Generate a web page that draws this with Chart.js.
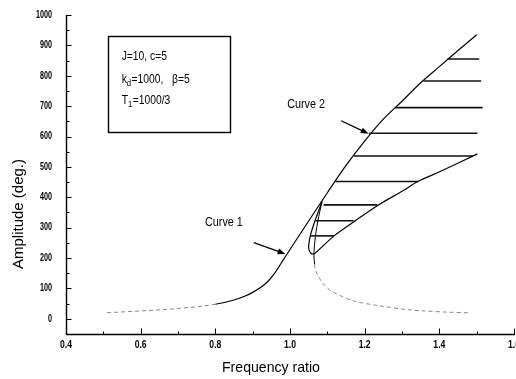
<!DOCTYPE html>
<html><head><meta charset="utf-8">
<script src="https://cdn.jsdelivr.net/npm/chart.js@4.4.1/dist/chart.umd.min.js"></script>
<style>
html,body{margin:0;padding:0;background:#fff;overflow:hidden;}
#wrap{position:relative;width:516px;height:379px;overflow:hidden;background:#fff;}
#c{display:block;}
</style></head><body>
<div id="wrap"><canvas id="c" width="530" height="379" style="width:530px;height:379px"></canvas></div>
<script>
// ---- tick values / labels ----
const xTickValues = [0.4, 0.6, 0.8, 1.0, 1.2, 1.4, 1.6];
const xTickLabels = ['0.4', '0.6', '0.8', '1.0', '1.2', '1.4', '1.6'];
const yTickValues = [0, 100, 200, 300, 400, 500, 600, 700, 800, 900, 1000];
const yTickLabels = ['0', '100', '200', '300', '400', '500', '600', '700', '800', '900', '1000'];

// ---- rising branch (curve 1 / curve 2 upper) ----
const riseX = [0.51, 0.6, 0.7, 0.8, 0.85, 0.88, 0.9, 0.92, 0.94, 0.96, 0.98, 1.0, 1.05, 1.1, 1.15, 1.2, 1.25, 1.3, 1.35, 1.4, 1.45, 1.5];
const riseY = [20, 26, 34, 48, 62, 75, 87, 102, 122, 152, 190, 228, 322, 415, 505, 585, 657, 716, 777, 830, 883, 935];

// ---- curve 1 fold-back branch ----
const foldX = [1.086, 1.077, 1.068, 1.064, 1.066, 1.068, 1.086, 1.11, 1.17, 1.24, 1.315, 1.36, 1.42, 1.48];
const foldY = [386, 337, 271, 210, 180, 161, 120, 92, 59, 43, 30, 26, 22, 20];

// ---- curve 2 loop and lower branch ----
const loopX = [1.086, 1.068, 1.055, 1.05, 1.056, 1.066, 1.085, 1.118, 1.174, 1.236, 1.306, 1.341, 1.408, 1.502];
const loopY = [386, 326, 276, 232, 216, 215, 236, 273, 322, 374, 424, 451, 488, 543];

// ---- hatch lines between the branches ----
const hatchLevel = [273, 323, 375, 452, 536, 611, 695, 783, 855];
const hatchFrom = [1.055, 1.068, 1.09, 1.122, 1.171, 1.212, 1.281, 1.358, 1.422];
const hatchTo = [1.118, 1.171, 1.234, 1.343, 1.49, 1.502, 1.516, 1.512, 1.507];

// ---- annotations (data coordinates) ----
const paramLines = [['J=10, c=5'], ['k', 'd', '=1000,   \u03b2=5'], ['T', '1', '=1000/3']];
const paramBox = {x0: 0.513, x1: 0.84, y0: 930, y1: 613, textX: 0.549, lineY: [862, 786, 717]};
const curveLabels = [
  {text: 'Curve 1', x: 0.823, y: 315, ax0: 0.903, ay0: 251, ax1: 0.988, ay1: 213},
  {text: 'Curve 2', x: 1.043, y: 704, ax0: 1.137, ay0: 652, ax1: 1.211, ay1: 609}
];
const xTitle = {text: 'Frequency ratio', x: 0.949};
const yTitle = {text: 'Amplitude (deg.)', y: 345};

const SANS = "'Liberation Sans',Arial,sans-serif";

function pts(xs, ys) { return xs.map((v, i) => ({x: v, y: ys[i]})); }
function line(xs, ys, opts) {
  return Object.assign({data: pts(xs, ys), showLine: true, pointRadius: 0, borderColor: '#000',
    borderWidth: 1.2, tension: 0.2, fill: false}, opts || {});
}

const datasets = [
  line(riseX, riseY, {cubicInterpolationMode: 'monotone',
    segment: {
      borderColor: c => c.p0.parsed.x < 0.78 ? '#888' : undefined,
      borderDash: c => c.p0.parsed.x < 0.78 ? [4, 3] : undefined,
      borderWidth: c => c.p0.parsed.x < 0.78 ? 1 : undefined
    }}),
  line(foldX, foldY, {borderWidth: 1, tension: 0.3,
    segment: {
      borderColor: c => c.p1.parsed.y < 170 ? '#888' : undefined,
      borderDash: c => c.p1.parsed.y < 170 ? [4, 3] : undefined
    }}),
  line(loopX, loopY, {tension: 0.3})
];
hatchLevel.forEach((lv, i) => {
  datasets.push(line([hatchFrom[i], hatchTo[i]], [lv, lv], {tension: 0, borderWidth: 1.6, borderColor: '#111'}));
});

function txt(ctx, s, x, y, font, align, sx) {
  ctx.save();
  ctx.font = font;
  ctx.textAlign = align;
  ctx.textBaseline = 'middle';
  ctx.translate(x, y);
  ctx.scale(sx, 1);
  ctx.fillText(s, 0, 0);
  ctx.restore();
}

const decor = {
  id: 'decor',
  afterDraw(chart) {
    const {ctx, chartArea: ca, scales: {x, y}} = chart;
    ctx.save();
    ctx.strokeStyle = '#000';
    ctx.fillStyle = '#000';
    ctx.lineWidth = 1.4;
    // axes
    const bx = Math.round(ca.left) + 0.5, by = Math.round(ca.bottom) + 0.5;
    ctx.beginPath();
    ctx.moveTo(bx, Math.round(ca.top));
    ctx.lineTo(bx, by);
    ctx.lineTo(Math.round(ca.right) + 1, by);
    ctx.stroke();
    // inward ticks
    ctx.lineWidth = 1;
    ctx.beginPath();
    for (let v = -50; v <= 1000; v += 50) {
      const py = Math.round(y.getPixelForValue(v)) + 0.5;
      const len = (v % 100 === 0) ? 5 : 3;
      ctx.moveTo(bx, py); ctx.lineTo(bx + len, py);
    }
    for (let i = 0; i <= 12; i++) {
      const v = 0.4 + i * 0.1;
      const px = Math.round(x.getPixelForValue(v)) + 0.5;
      const len = (i % 2 === 0) ? 6 : 3;
      ctx.moveTo(px, by); ctx.lineTo(px, by - len);
    }
    ctx.stroke();

    // tick labels
    const tickFont = 'bold 10px ' + SANS;
    yTickValues.forEach((v, i) => txt(ctx, yTickLabels[i], 52, y.getPixelForValue(v), tickFont, 'right', 0.72));
    xTickValues.forEach((v, i) => txt(ctx, xTickLabels[i], x.getPixelForValue(v), 345, tickFont, 'center', 0.86));

    // parameter box
    const X0 = x.getPixelForValue(paramBox.x0), X1 = x.getPixelForValue(paramBox.x1);
    const Y0 = y.getPixelForValue(paramBox.y0), Y1 = y.getPixelForValue(paramBox.y1);
    ctx.lineWidth = 1.4;
    ctx.strokeRect(Math.round(X0) + 0.5, Math.round(Y0) + 0.5, Math.round(X1 - X0), Math.round(Y1 - Y0));
    const tx = x.getPixelForValue(paramBox.textX);
    const SX = 0.86;
    paramLines.forEach((parts, i) => {
      const ty = y.getPixelForValue(paramBox.lineY[i]);
      let cx = tx;
      parts.forEach((p, j) => {
        const sub = (parts.length === 3 && j === 1);
        const f = (sub ? '9px ' : '12px ') + SANS;
        txt(ctx, p, cx, sub ? ty + 4 : ty, f, 'left', SX);
        ctx.font = f;
        cx += ctx.measureText(p).width * SX + (sub ? 0.5 : 0);
      });
    });

    // curve labels + arrows
    curveLabels.forEach(c => {
      txt(ctx, c.text, x.getPixelForValue(c.x), y.getPixelForValue(c.y), '12px ' + SANS, 'center', 0.9);
      const x0 = x.getPixelForValue(c.ax0), y0 = y.getPixelForValue(c.ay0);
      const x1 = x.getPixelForValue(c.ax1), y1 = y.getPixelForValue(c.ay1);
      const ang = Math.atan2(y1 - y0, x1 - x0);
      ctx.lineWidth = 1.3;
      ctx.beginPath(); ctx.moveTo(x0, y0); ctx.lineTo(x1 - 4 * Math.cos(ang), y1 - 4 * Math.sin(ang)); ctx.stroke();
      ctx.beginPath();
      ctx.moveTo(x1, y1);
      ctx.lineTo(x1 - 8 * Math.cos(ang) + 3 * Math.sin(ang), y1 - 8 * Math.sin(ang) - 3 * Math.cos(ang));
      ctx.lineTo(x1 - 8 * Math.cos(ang) - 3 * Math.sin(ang), y1 - 8 * Math.sin(ang) + 3 * Math.cos(ang));
      ctx.closePath(); ctx.fill();
    });

    // axis titles
    txt(ctx, xTitle.text, x.getPixelForValue(xTitle.x), 368, '15px ' + SANS, 'center', 0.94);
    ctx.save();
    ctx.translate(19, y.getPixelForValue(yTitle.y));
    ctx.rotate(-Math.PI / 2);
    ctx.font = '15px ' + SANS;
    ctx.textAlign = 'center';
    ctx.textBaseline = 'middle';
    ctx.fillText(yTitle.text, 0, 0);
    ctx.restore();
    ctx.restore();
  }
};

new Chart(document.getElementById('c'), {
  type: 'scatter',
  data: {datasets},
  options: {
    responsive: false,
    animation: false,
    devicePixelRatio: 1,
    layout: {padding: {top: 15, right: 16, left: 0, bottom: 0}},
    plugins: {legend: {display: false}, tooltip: {enabled: false}},
    scales: {
      x: {
        type: 'linear', min: 0.4, max: 1.6,
        afterBuildTicks: s => { s.ticks = xTickValues.map(v => ({value: v})); },
        afterFit: s => { s.height = 45; },
        grid: {display: false, drawTicks: false},
        border: {display: false},
        ticks: {display: false}
      },
      y: {
        type: 'linear', min: -50, max: 1000,
        afterBuildTicks: s => { s.ticks = yTickValues.map(v => ({value: v})); },
        afterFit: s => { s.width = 66; },
        grid: {display: false, drawTicks: false},
        border: {display: false},
        ticks: {display: false}
      }
    }
  },
  plugins: [decor]
});
</script>
</body></html>
